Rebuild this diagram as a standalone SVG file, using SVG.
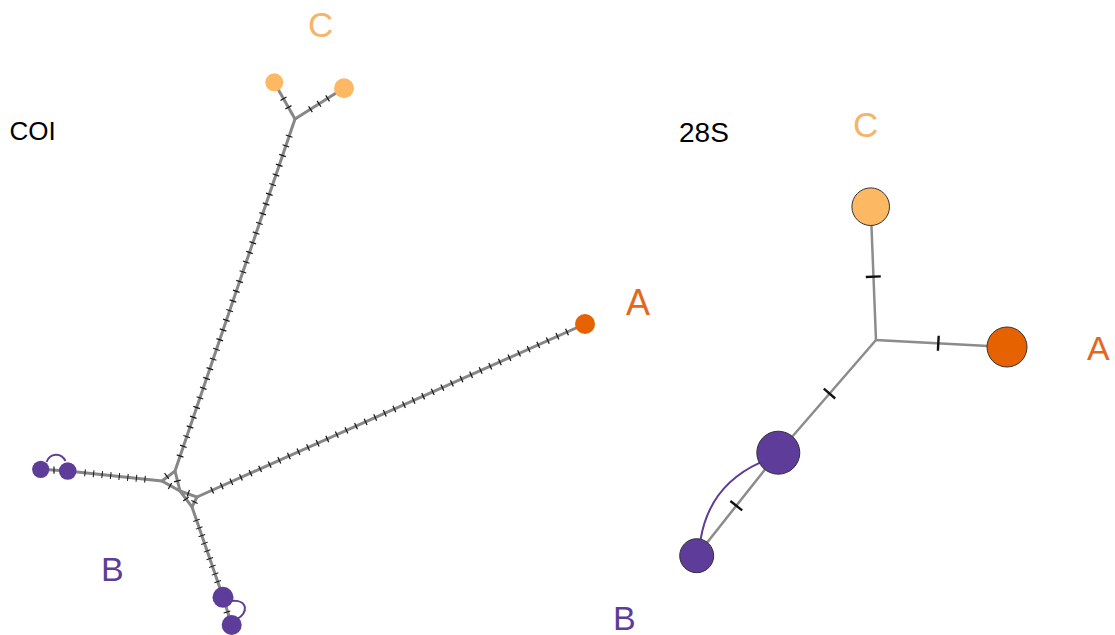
<svg xmlns="http://www.w3.org/2000/svg" width="1115" height="635" viewBox="0 0 1115 635">
  <style>
    .edge { stroke: #878787; stroke-width: 3; fill: none; stroke-linecap: round; }
    .edge28 { stroke: #8c8c8c; stroke-width: 2.5; fill: none; }
    .ticks { stroke: #1a1a1a; stroke-width: 7; fill: none; stroke-dasharray: 0.12 0.88; stroke-dashoffset: -0.44; }
    .tick { stroke: #1a1a1a; stroke-width: 1.2; }
    .tick28 { stroke: #111; stroke-width: 2.4; }
    .link { stroke: #5E3C99; stroke-width: 2; fill: none; }
    .hA { fill: #E66100; }
    .hB { fill: #5E3C99; }
    .hC { fill: #FDB863; }
    .n28 { stroke: #333; stroke-width: 1; }
    .lbl { font-family: "Liberation Sans", Arial, sans-serif; }
    .tA { fill: #E2681D; }
    .tB { fill: #5E3C99; }
    .tC { fill: #F6B469; }
  </style>

  <!-- COI haplotype network -->
  <g id="coi-connectors">
    <!-- trunks -->
    <path class="edge" d="M197,497 L585,324"/>
    <path class="edge" d="M175,471 L295,119"/>
    <path class="edge" d="M295,119 L274,82"/>
    <path class="edge" d="M295,119 L344,88"/>
    <path class="edge" d="M67.7,471 L162,481"/>
    <path class="edge" d="M40.7,469.3 L67.7,471"/>
    <path class="edge" d="M192,507 L223,597"/>
    <path class="edge" d="M223,597 L231.7,625"/>
    <!-- central reticulation -->
    <path class="edge" d="M162,481 L175,471 L180,491 Z"/>
    <path class="edge" d="M180,491 L197,497 L192,507 Z"/>

    <!-- mutation steps -->
    <path class="ticks" pathLength="38" d="M207.37,492.38 L571.8,329.9"/>
    <path class="ticks" pathLength="34" d="M178.45,460.87 L290.8,131.3"/>
    <path class="ticks" pathLength="2" d="M290.85,111.69 L281.02,94.38"/>
    <path class="ticks" pathLength="3" d="M306.15,111.95 L331.93,95.66"/>
    <path class="ticks" pathLength="8" d="M80.73,472.38 L149.26,479.65"/>
    <path class="ticks" pathLength="9" d="M195.26,516.45 L219.02,585.47"/>
    <line class="tick" x1="54" y1="466.5" x2="54" y2="473.7"/>
    <line class="tick" x1="223.66" y1="613.04" x2="230.34" y2="610.96"/>
    <line class="tick" x1="164.56" y1="473.22" x2="168.84" y2="478.78"/>
    <line class="tick" x1="173.9" y1="481.85" x2="180.7" y2="480.15"/>
    <line class="tick" x1="171.7" y1="482.94" x2="168.3" y2="489.06"/>
    <line class="tick" x1="189.47" y1="490" x2="187.13" y2="496.6"/>
    <line class="tick" x1="183.2" y1="501.1" x2="188.8" y2="496.9"/>
    <line class="tick" x1="191.37" y1="500.44" x2="197.63" y2="503.56"/>

    <!-- alternative links -->
    <path class="link" d="M46.5,462 C50,453 61,452 65.5,461"/>
    <path class="link" d="M231,601 C249,599 248,614 237,619"/>
  </g>

  <g id="coi-A"><circle class="hA" cx="585" cy="324" r="10"/></g>
  <g id="coi-C1"><circle class="hC" cx="274.3" cy="82.3" r="9"/></g>
  <g id="coi-C2"><circle class="hC" cx="344" cy="88.3" r="10"/></g>
  <g id="coi-B1"><circle class="hB" cx="40.7" cy="469.3" r="8.6"/></g>
  <g id="coi-B2"><circle class="hB" cx="67.7" cy="471" r="8.8"/></g>
  <g id="coi-B3"><circle class="hB" cx="223" cy="597.3" r="10.5"/></g>
  <g id="coi-B4"><circle class="hB" cx="231.7" cy="625" r="10"/></g>

  <g id="coi-labels" class="lbl">
    <text x="9.5" y="140" font-size="26" fill="#000">COI</text>
    <text class="tC" x="308" y="37" font-size="35">C</text>
    <text class="tA" x="626" y="315" font-size="36">A</text>
    <text class="tB" x="101" y="581" font-size="34">B</text>
  </g>

  <!-- 28S haplotype network -->
  <g id="s28-connectors">
    <path class="edge28" d="M870.7,206.7 L876,340 L1007,347"/>
    <path class="edge28" d="M876,340 L778.3,452.7 L696.7,555.7"/>
    <line class="tick28" x1="865.8" y1="277" x2="880.8" y2="276.4"/>
    <line class="tick28" x1="938.7" y1="335.8" x2="937.9" y2="350.8"/>
    <line class="tick28" x1="823.8" y1="388.7" x2="835.2" y2="398.5"/>
    <line class="tick28" x1="730.4" y1="501" x2="742.2" y2="510.4"/>
    <path class="link" d="M700.7,539 Q709.6,485.7 760,462.7"/>
  </g>

  <g id="s28-C"><circle class="hC n28" cx="870.7" cy="206.7" r="18.8"/></g>
  <g id="s28-A"><circle class="hA n28" cx="1007" cy="347" r="20"/></g>
  <g id="s28-B1"><circle class="hB n28" cx="778.3" cy="452.7" r="21.5"/></g>
  <g id="s28-B2"><circle class="hB n28" cx="696.7" cy="555.7" r="17"/></g>

  <g id="s28-labels" class="lbl">
    <text x="679" y="142" font-size="28" fill="#000">28S</text>
    <text class="tC" x="853" y="137" font-size="35">C</text>
    <text class="tA" x="1087" y="360" font-size="34">A</text>
    <text class="tB" x="613" y="630" font-size="34">B</text>
  </g>
</svg>
